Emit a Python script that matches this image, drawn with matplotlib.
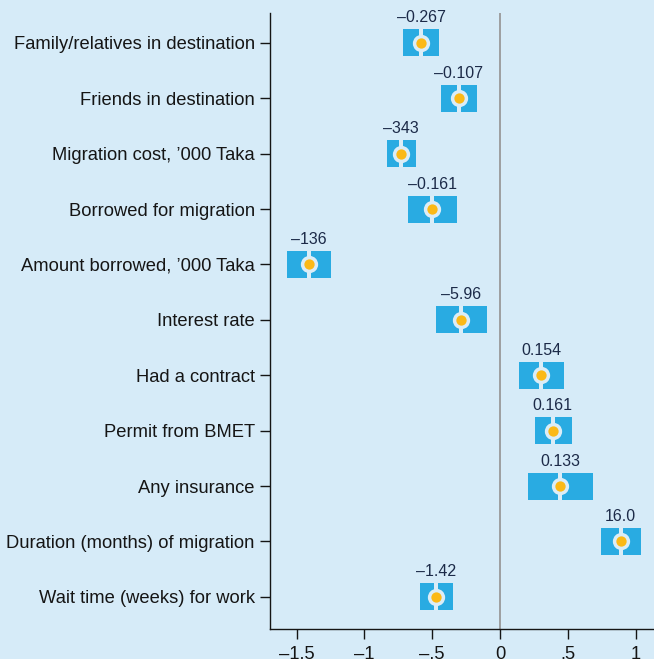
import matplotlib
matplotlib.use("Agg")
import matplotlib.pyplot as plt
from matplotlib.patches import Rectangle

plt.rcParams['font.family'] = ['Liberation Sans', 'DejaVu Sans']

categories = [
    "Family/relatives in destination",
    "Friends in destination",
    "Migration cost, \u2019000 Taka",
    "Borrowed for migration",
    "Amount borrowed, \u2019000 Taka",
    "Interest rate",
    "Had a contract",
    "Permit from BMET",
    "Any insurance",
    "Duration (months) of migration",
    "Wait time (weeks) for work",
]
estimates = [-0.583, -0.303, -0.728, -0.500, -1.410, -0.290, 0.305, 0.389, 0.445, 0.891, -0.472]
ci_low = [-0.714, -0.435, -0.836, -0.677, -1.570, -0.475, 0.143, 0.256, 0.207, 0.748, -0.588]
ci_high = [-0.450, -0.170, -0.620, -0.315, -1.250, -0.098, 0.470, 0.529, 0.689, 1.043, -0.349]
value_labels = ["\u20130.267", "\u20130.107", "\u2013343", "\u20130.161", "\u2013136", "\u20135.96",
                "0.154", "0.161", "0.133", "16.0", "\u20131.42"]
xticks = [-1.5, -1, -0.5, 0, 0.5, 1]
xtick_labels = ["\u20131.5", "\u20131", "\u2013.5", "0", ".5", "1"]

BG = "#d6ebf8"
RING = "#dbedf7"
BOX = "#29abe2"
DOT = "#fbb917"
TXT = "#1c2a48"

W, H = 654, 659
fig = plt.figure(figsize=(W / 100, H / 100), dpi=100)
fig.patch.set_facecolor(BG)
ax = fig.add_axes([270 / W, 30 / H, (W - 270) / W, (629 - 13) / H])
ax.set_facecolor(BG)

ax.set_xlim(-1.697, 1.1365)
ax.set_ylim(-10.58, 0.54)

ax.axvline(0, color="#999999", lw=1.3, zorder=1)

bh = 0.49
gap = 0.028
for i, (est, lo, hi, lab) in enumerate(zip(estimates, ci_low, ci_high, value_labels)):
    y = -i
    ax.add_patch(Rectangle((lo, y - bh / 2), hi - lo, bh, facecolor=BOX, edgecolor="none", zorder=2))
    ax.add_patch(Rectangle((est - gap / 2, y - bh / 2), gap, bh, facecolor=RING, edgecolor="none", zorder=3))
    ax.text(est, y + bh / 2 + 0.07, lab, ha="center", va="bottom", fontsize=11.5, color=TXT, zorder=5)

ys = [-i for i in range(len(categories))]
ax.scatter(estimates, ys, s=155, color=RING, zorder=4, linewidths=0)
ax.scatter(estimates, ys, s=55, color=DOT, zorder=5, linewidths=0)

ax.set_yticks(ys)
ax.set_yticklabels(categories, fontsize=13.2, color="#151515")
ax.set_xticks(xticks)
ax.set_xticklabels(xtick_labels, fontsize=13.2, color="#151515")
ax.tick_params(axis="both", length=7, width=1, color="#151515")
ax.tick_params(axis="y", pad=4)
ax.tick_params(axis="x", pad=5)

for s in ["top", "right"]:
    ax.spines[s].set_visible(False)
for s in ["left", "bottom"]:
    ax.spines[s].set_color("#151515")
    ax.spines[s].set_linewidth(1)

fig.savefig("out.png", dpi=100, facecolor=BG)
